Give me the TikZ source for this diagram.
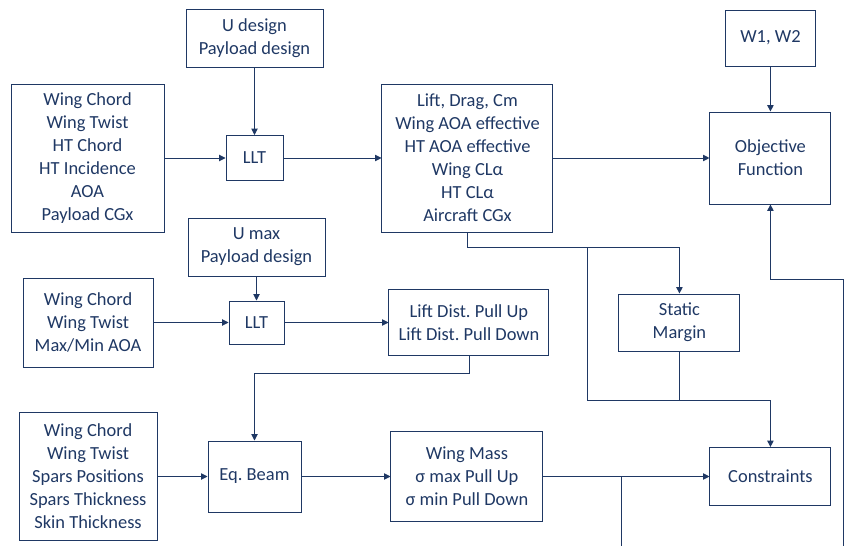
\documentclass[tikz,border=0pt]{standalone}
\usepackage{fontspec}
\setmainfont{Carlito}
\usetikzlibrary{arrows.meta,calc,positioning}
\frenchspacing

\definecolor{navy}{RGB}{31,56,100}

\tikzset{
  blk/.style={draw=navy, line width=0.55pt, text=navy, align=center, inner sep=0pt,
    font=\fontsize{10.5}{13.1}\selectfont},
  arr/.style={draw=navy, line width=0.5pt, -{Triangle[length=3.6pt,width=3.6pt]}},
  ln/.style={draw=navy, line width=0.5pt}
}

\begin{document}
\begin{tikzpicture}
  \useasboundingbox (0,0) rectangle (16.9,-10.92);

  % first row
  \node[blk, minimum width=1.14cm, minimum height=0.9cm] (llt1) at (5.09,-3.16) {LLT};
  \node[blk, minimum width=2.74cm, minimum height=1.16cm, above=1.34cm of llt1] (udes) {U design\\Payload design};
  \node[blk, minimum width=3.06cm, minimum height=2.96cm, left=1.22cm of llt1] (in1) {Wing Chord\\Wing Twist\\HT Chord\\HT Incidence\\AOA\\Payload CGx};
  \node[blk, minimum width=3.42cm, minimum height=2.96cm, right=1.96cm of llt1] (aero) {Lift, Drag, Cm\\Wing AOA effective\\HT AOA effective\\Wing CLα\\HT CLα\\Aircraft CGx};
  \node[blk, minimum width=2.42cm, minimum height=1.84cm, right=3.12cm of aero] (obj) {Objective\\Function};
  \node[blk, minimum width=1.8cm, minimum height=1.12cm, above=0.9cm of obj] (w12) {W1, W2};

  % second row
  \node[blk, minimum width=1.1cm, minimum height=0.86cm] (llt2) at (5.13,-6.45) {LLT};
  \node[blk, minimum width=2.74cm, minimum height=1.16cm, above=0.48cm of llt2] (umax) {U max\\Payload design};
  \node[blk, minimum width=2.6cm, minimum height=1.78cm, left=1.5cm of llt2] (in2) {Wing Chord\\Wing Twist\\Max/Min AOA};
  \node[blk, minimum width=3.2cm, minimum height=1.32cm, right=2.08cm of llt2] (lift) {Lift Dist. Pull Up\\Lift Dist. Pull Down};
  \node[blk, minimum width=2.42cm, minimum height=1.14cm, right=1.38cm of lift] (sm) {Static\\Margin};

  % third row
  \node[blk, minimum width=1.86cm, minimum height=1.42cm] (beam) at (5.09,-9.53) {Eq. Beam};
  \node[blk, minimum width=2.76cm, minimum height=2.56cm, left=1.0cm of beam] (in3) {Wing Chord\\Wing Twist\\Spars Positions\\Spars Thickness\\Skin Thickness};
  \node[blk, minimum width=3.04cm, minimum height=1.8cm, right=1.78cm of beam] (mass) {Wing Mass\\σ max Pull Up\\σ min Pull Down};
  \node[blk, minimum width=2.42cm, minimum height=1.16cm, right=3.32cm of mass] (cons) {Constraints};

  % junctions and free ends
  \coordinate (j1) at ($(aero.south)+(0,-0.3)$);
  \coordinate (j2) at (11.74,0 |- j1);
  \coordinate (j3) at (11.74,-8.0);
  \coordinate (out1) at (12.42,-10.92);
  \coordinate (fb) at (16.86,-10.92);
  \coordinate (fbk) at (16.86,-5.58);

  \draw[arr] (udes) -- (llt1);
  \draw[arr] (in1) -- (llt1);
  \draw[arr] (llt1) -- (aero);
  \draw[arr] (aero.east) -- (aero.east -| obj.west);
  \draw[arr] (w12) -- (obj);

  \draw[arr] (aero.south) -- (j1) -| (sm.north);
  \draw[arr] (j2) -- (j3) -| (cons.north);
  \draw[ln] (sm.south) -- (sm.south |- j3);

  \draw[arr] (umax) -- (llt2);
  \draw[arr] (in2) -- (llt2);
  \draw[arr] (llt2) -- (llt2.east -| lift.west);
  \draw[arr] (lift.south) -- ++(0,-0.34) -| (beam.north);

  \draw[arr] (in3) -- (beam);
  \draw[arr] (beam) -- (mass);
  \draw[arr] (mass) -- (cons);
  \draw[ln] (mass.east -| out1) -- (out1);
  \draw[arr] (fb) -- (fbk) -| (obj.south);
\end{tikzpicture}
\end{document}
